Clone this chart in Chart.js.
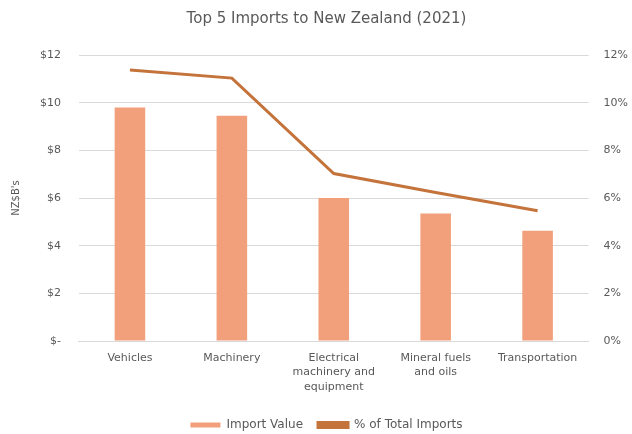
<!DOCTYPE html>
<html>
<head>
<meta charset="utf-8">
<script src="https://cdn.jsdelivr.net/npm/chart.js@4"></script>
<style>
  html, body { margin: 0; padding: 0; background: #fff; }
  #wrap { width: 632px; height: 434px; }
</style>
</head>
<body>
<div id="wrap"><canvas id="chart-imports"></canvas></div>
<script>
const categories = [
  "Vehicles",
  "Machinery",
  ["Electrical", "machinery and", "equipment"],
  ["Mineral fuels", "and oils"],
  "Transportation",
];
const importValue = [9.8, 9.45, 6.0, 5.35, 4.63];
const shareOfTotal = [11.37, 11.03, 7.03, 6.23, 5.47];

const barColor = "#f2a07c";
const lineColor = "#c4733b";
const textColor = "#595959";
const fontFamily = "'DejaVu Sans', sans-serif";

Chart.defaults.font.family = fontFamily;
Chart.defaults.color = textColor;

const ctx = document.getElementById("chart-imports");
new Chart(ctx, {
  type: "bar",
  data: {
    labels: categories,
    datasets: [
      {
        label: "Import Value",
        data: importValue,
        backgroundColor: barColor,
        yAxisID: "y",
        barPercentage: 0.6,
        categoryPercentage: 0.5,
        order: 1,
      },
      {
        type: "line",
        label: "% of Total Imports",
        data: shareOfTotal,
        borderColor: lineColor,
        backgroundColor: lineColor,
        borderWidth: 3,
        pointRadius: 0,
        tension: 0,
        yAxisID: "y1",
        order: 0,
      },
    ],
  },
  options: {
    responsive: true,
    maintainAspectRatio: false,
    animation: false,
    layout: { padding: { left: 10, right: -11, top: 4, bottom: -7 } },
    plugins: {
      title: {
        display: true,
        text: "Top 5 Imports to New Zealand (2021)",
        font: { size: 15, weight: "normal" },
        color: textColor,
        padding: { top: 6, bottom: 27 },
      },
      legend: {
        position: "bottom",
        labels: {
          boxWidth: 30,
          boxHeight: 5,
          font: { size: 12 },
          padding: 15,
          sort: (a, b) => a.datasetIndex - b.datasetIndex,
        },
      },
      tooltip: { enabled: false },
    },
    scales: {
      x: {
        grid: { display: false, drawTicks: false },
        border: { display: true, color: "#d9d9d9" },
        ticks: { font: { size: 11, lineHeight: 1.3 }, maxRotation: 0, autoSkip: false, padding: 10 },
      },
      y: {
        position: "left",
        min: 0,
        max: 12,
        grid: { color: "#d9d9d9", drawTicks: false },
        border: { display: false },
        ticks: {
          stepSize: 2,
          font: { size: 11 },
          padding: 18,
          callback: (v) => (v === 0 ? "$-" : "$" + v),
        },
        title: {
          display: true,
          text: "NZ$B's",
          font: { size: 10 },
          padding: { top: 0, bottom: 0 },
        },
      },
      y1: {
        position: "right",
        min: 0,
        max: 12,
        grid: { display: false, drawTicks: false },
        border: { display: false },
        ticks: {
          stepSize: 2,
          font: { size: 11 },
          padding: 15,
          callback: (v) => v + "%",
        },
      },
    },
  },
});
</script>
</body>
</html>
